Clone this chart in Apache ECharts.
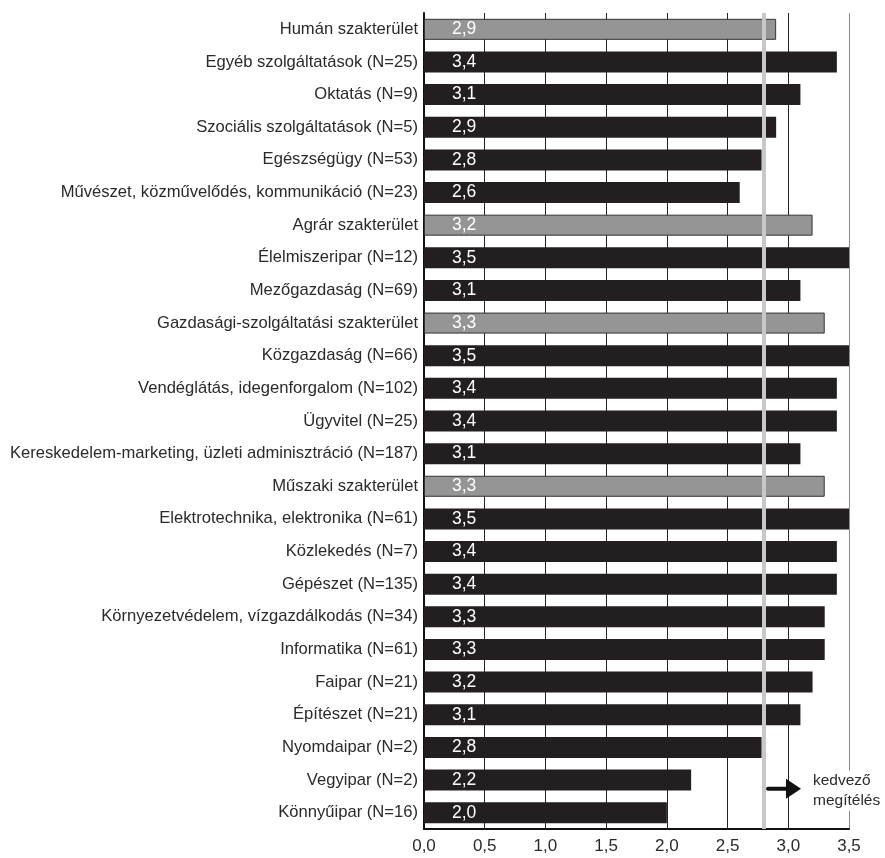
<!DOCTYPE html>
<html>
<head>
<meta charset="utf-8">
<script src="https://cdn.jsdelivr.net/npm/echarts@6/dist/echarts.min.js"></script>
<style>
html,body{margin:0;padding:0;background:#fff;}
#chart{width:885px;height:858px;}
</style>
</head>
<body>
<div id="chart"></div>
<script>
const categories = [
  'Humán szakterület',
  'Egyéb szolgáltatások (N=25)',
  'Oktatás (N=9)',
  'Szociális szolgáltatások (N=5)',
  'Egészségügy (N=53)',
  'Művészet, közművelődés, kommunikáció (N=23)',
  'Agrár szakterület',
  'Élelmiszeripar (N=12)',
  'Mezőgazdaság (N=69)',
  'Gazdasági-szolgáltatási szakterület',
  'Közgazdaság (N=66)',
  'Vendéglátás, idegenforgalom (N=102)',
  'Ügyvitel (N=25)',
  'Kereskedelem-marketing, üzleti adminisztráció (N=187)',
  'Műszaki szakterület',
  'Elektrotechnika, elektronika (N=61)',
  'Közlekedés (N=7)',
  'Gépészet (N=135)',
  'Környezetvédelem, vízgazdálkodás (N=34)',
  'Informatika (N=61)',
  'Faipar (N=21)',
  'Építészet (N=21)',
  'Nyomdaipar (N=2)',
  'Vegyipar (N=2)',
  'Könnyűipar (N=16)'
];
const values = [2.9, 3.4, 3.1, 2.9, 2.78, 2.6, 3.2, 3.5, 3.1, 3.3, 3.5, 3.4, 3.4, 3.1, 3.3, 3.5, 3.4, 3.4, 3.3, 3.3, 3.2, 3.1, 2.78, 2.2, 2.0];
const headerCategories = ['Humán szakterület', 'Agrár szakterület', 'Gazdasági-szolgáltatási szakterület', 'Műszaki szakterület'];
const thresholdValue = 2.8;
const annotationText = ['kedvező', 'megítélés'];
const xMin = 0, xMax = 3.5, xStep = 0.5;

const FONT = "'Liberation Sans', Arial, sans-serif";
const fmt = v => Number(v).toFixed(1).replace('.', ',');

const chart = echarts.init(document.getElementById('chart'), null, {renderer: 'canvas'});

const splitColors = [];
for (let v = xMin; v <= xMax + 1e-9; v += xStep) splitColors.push('#222');
splitColors[splitColors.length - 1] = '#8a8a8a';

const option = {
  animation: false,
  backgroundColor: '#fff',
  grid: {left: 424, right: 36, top: 13, bottom: 29, containLabel: false},
  xAxis: {
    type: 'value', min: xMin, max: xMax, interval: xStep,
    axisLine: {show: true, onZero: false, lineStyle: {color: '#111', width: 2}},
    axisTick: {show: false},
    axisLabel: {formatter: fmt, fontFamily: FONT, fontSize: 17, color: '#2a2a2a', margin: 9},
    splitLine: {show: true, lineStyle: {color: splitColors, width: 1}}
  },
  yAxis: {
    type: 'category', data: categories, inverse: true,
    axisLine: {show: true, lineStyle: {color: '#111', width: 2}},
    axisTick: {show: false},
    axisLabel: {fontFamily: FONT, fontSize: 16.6, color: '#2a2a2a', margin: 6},
    splitLine: {show: false}
  },
  series: [{
    type: 'bar',
    barWidth: 21,
    data: values.map((v, i) => {
      const header = headerCategories.includes(categories[i]);
      return {
        value: v,
        itemStyle: header
          ? {color: '#959595', borderColor: '#333', borderWidth: 1}
          : {color: '#231f20'}
      };
    }),
    label: {
      show: true, position: 'insideLeft', distance: 28,
      formatter: p => fmt(p.value),
      color: '#fff', fontFamily: FONT, fontSize: 17.5
    },
    markLine: {
      silent: true, symbol: 'none', z: 10,
      label: {show: false},
      lineStyle: {color: '#c8c8c8', width: 4, type: 'solid'},
      data: [{xAxis: thresholdValue}]
    }
  }]
};
chart.setOption(option);

// annotation: arrow + text near bottom right
const refX = chart.convertToPixel({xAxisIndex: 0}, thresholdValue);
const lastY = chart.convertToPixel({yAxisIndex: 0}, categories[categories.length - 1]);
const ay = lastY - 24;
chart.setOption({
  graphic: [
    {type: 'line', z: 20, shape: {x1: refX + 4, y1: ay, x2: refX + 24, y2: ay}, style: {stroke: '#111', lineWidth: 4, lineCap: 'round'}},
    {type: 'polygon', z: 20, shape: {points: [[refX + 22, ay - 10], [refX + 37, ay], [refX + 22, ay + 10]]}, style: {fill: '#111'}},
    {type: 'text', z: 20, left: refX + 49, top: ay - 18, style: {
      text: annotationText.join('\n'), font: '15.5px ' + FONT, fill: '#2a2a2a',
      lineHeight: 20, backgroundColor: '#fff'
    }}
  ]
});
</script>
</body>
</html>
